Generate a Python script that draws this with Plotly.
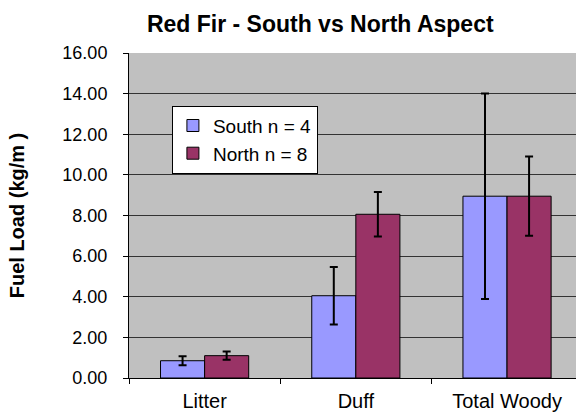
import plotly.graph_objects as go

categories = ["Litter", "Duff", "Total Woody"]
south = [0.85, 4.05, 8.95]
south_err = [0.22, 1.42, 5.06]
north = [1.10, 8.06, 8.95]
north_err = [0.20, 1.10, 1.95]

fig = go.Figure()
fig.add_trace(go.Bar(
    x=categories, y=south, name="South n = 4",
    marker=dict(color="#9999FF", line=dict(color="black", width=1)),
    error_y=dict(type="data", array=south_err, color="black", thickness=2, width=4),
))
fig.add_trace(go.Bar(
    x=categories, y=north, name="North n = 8",
    marker=dict(color="#993366", line=dict(color="black", width=1)),
    error_y=dict(type="data", array=north_err, color="black", thickness=2, width=4),
))

fig.update_layout(
    width=576, height=417,
    margin=dict(l=129, r=0, t=53, b=39, autoexpand=False),
    paper_bgcolor="white", plot_bgcolor="#C0C0C0",
    font=dict(family="Arial, Liberation Sans, sans-serif", size=18, color="black"),
    title=dict(text="<b>Red Fir - South vs North Aspect</b>", x=0.556, xanchor="center",
               y=0.942, yanchor="middle", font=dict(size=23), automargin=False),
    barmode="group", bargap=0.417, bargroupgap=0,
    legend=dict(x=0.096, y=0.838, xanchor="left", yanchor="top",
                bgcolor="white", bordercolor="black", borderwidth=1,
                font=dict(size=19), itemwidth=30, tracegroupgap=2),
    showlegend=True,
)
fig.update_xaxes(
    range=[-0.5, 2.456], showline=True, linecolor="black", linewidth=1,
    ticks="outside", ticklen=5, tickcolor="black", tickson="boundaries",
    ticklabelstandoff=5, showgrid=False, automargin=False,
    tickfont=dict(size=20),
)
fig.update_yaxes(
    range=[0, 16], dtick=2, tickformat=".2f",
    showline=True, linecolor="black", linewidth=1,
    ticks="outside", ticklen=5, tickcolor="black",
    showgrid=True, gridcolor="#333333", gridwidth=1, zeroline=False,
    ticklabelstandoff=12, automargin=False,
    title=dict(text="<b>Fuel Load (kg/m )</b>", font=dict(size=20), standoff=32),
)

fig.write_html("out.html", config={"displayModeBar": False},
               post_script="document.body.style.margin='0';document.body.style.overflow='hidden';")
